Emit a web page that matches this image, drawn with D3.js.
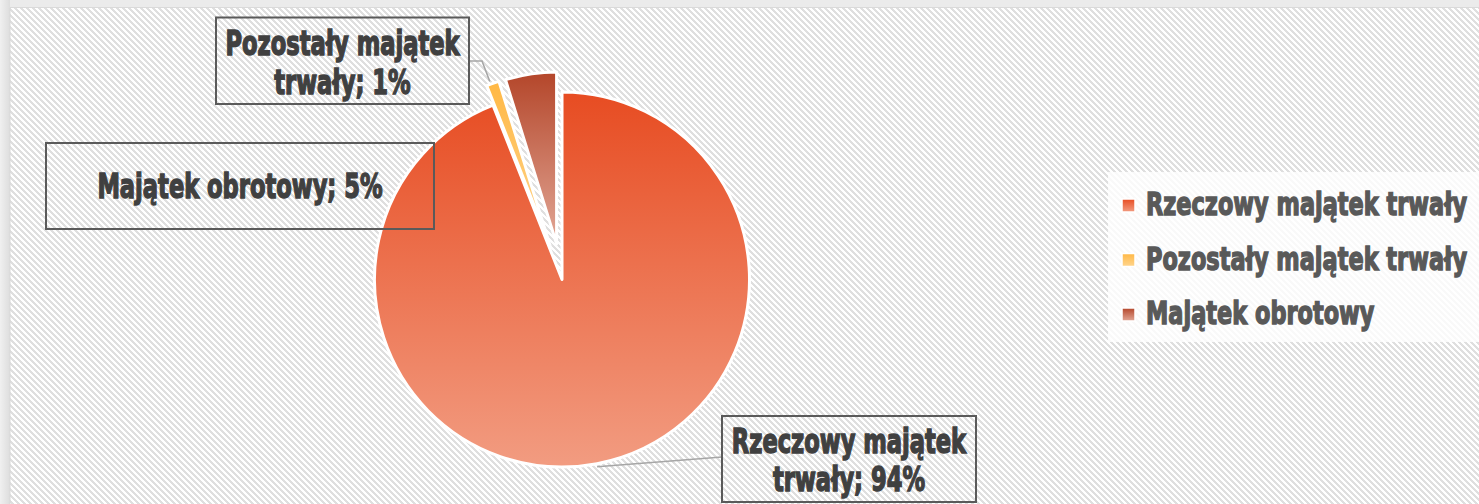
<!DOCTYPE html>
<html>
<head>
<meta charset="utf-8">
<script src="https://cdn.jsdelivr.net/npm/d3@7"></script>
<style>
html,body{margin:0;padding:0;background:#ebebeb;overflow:hidden;}
svg{display:block;}
</style>
</head>
<body>
<svg id="chart" width="1479" height="504"></svg>
<script>
// ---- data ----
const categories = ["Rzeczowy majątek trwały", "Pozostały majątek trwały", "Majątek obrotowy"];
const values = [94.0, 1.2, 4.8];
const exploded = [false, true, true];
const topColors = ["#E74C22", "#FFB845", "#B4462A"];
const bottomColors = ["#F29C81", "#FFD58E", "#E2A796"];

// ---- layout ----
const W = 1479, H = 504;
const cx = 562, cy = 279.5, R = 187.5, Rex = 172, explodeDist = 36;
const FONT = "'Liberation Sans Narrow','DejaVu Sans Condensed','Liberation Sans',sans-serif";

const svg = d3.select("#chart");
const defs = svg.append("defs");

// background pattern (downward diagonal stripes)
const pat = defs.append("pattern").attr("id", "bgpat")
  .attr("patternUnits", "userSpaceOnUse").attr("width", 6).attr("height", 6);
pat.append("rect").attr("width", 6).attr("height", 6).attr("fill", "#ffffff");
for (let y = 0; y < 6; y++) for (let x = 0; x < 6; x++) {
  if (((x - y) % 6 + 6) % 6 < 3) pat.append("rect").attr("x", x).attr("y", y)
    .attr("width", 1).attr("height", 1).attr("fill", "#dfdfdf").attr("shape-rendering", "crispEdges");
}

// gradients
categories.forEach((c, i) => {
  const g = defs.append("linearGradient").attr("id", "grad" + i)
    .attr("x1", 0).attr("y1", 0).attr("x2", 0).attr("y2", 1);
  g.append("stop").attr("offset", "0%").attr("stop-color", topColors[i]);
  g.append("stop").attr("offset", "100%").attr("stop-color", bottomColors[i]);
});

svg.append("rect").attr("width", W).attr("height", H).attr("fill", "#ebebeb");
const lg = defs.append("linearGradient").attr("id", "leftband").attr("x1", 0).attr("x2", 1).attr("y1", 0).attr("y2", 0);
lg.append("stop").attr("offset", "0%").attr("stop-color", "#f0f0f0");
lg.append("stop").attr("offset", "100%").attr("stop-color", "#dddddd");
svg.append("rect").attr("x", 0).attr("y", 0).attr("width", 10).attr("height", H).attr("fill", "url(#leftband)");
svg.append("rect").attr("x", 10).attr("y", 8).attr("width", W - 10).attr("height", H - 8)
  .attr("fill", "url(#bgpat)");
svg.append("line").attr("x1", 10).attr("x2", W).attr("y1", 7.5).attr("y2", 7.5).attr("stroke", "#dadada").attr("stroke-width", 1);
svg.append("line").attr("x1", 10).attr("x2", 10).attr("y1", 8).attr("y2", H).attr("stroke", "#d8d8d8").attr("stroke-width", 1);

// ---- pie ----
const pie = d3.pie().sort(null).value(d => d)(values);
const arcBig = d3.arc().innerRadius(0).outerRadius(R);
const arcEx = d3.arc().innerRadius(0).outerRadius(Rex);

function offsetOf(d, i) {
  if (!exploded[i]) return [0, 0];
  const m = (d.startAngle + d.endAngle) / 2;
  return [Math.sin(m) * explodeDist, -Math.cos(m) * explodeDist];
}

const pieG = svg.append("g").attr("transform", `translate(${cx},${cy})`);
pieG.selectAll("path").data(pie).join("path")
  .attr("transform", (d, i) => { const o = offsetOf(d, i); return `translate(${o[0]},${o[1]})`; })
  .attr("d", (d, i) => exploded[i] ? arcEx(d) : arcBig(d))
  .attr("fill", (d, i) => `url(#grad${i})`)
  .attr("stroke", "#ffffff").attr("stroke-width", 3).attr("stroke-linejoin", "round");

// ---- data labels ----
const total = d3.sum(values);
const pct = values.map(v => Math.round(v / total * 100) + "%");

function pointOnSlice(i) {
  const d = pie[i];
  const m = (d.startAngle + d.endAngle) / 2;
  const o = offsetOf(d, i);
  const r = exploded[i] ? Rex : R;
  return [cx + o[0] + Math.sin(m) * r, cy + o[1] - Math.cos(m) * r];
}

// leader lines
const lineG = svg.append("g").attr("fill", "none").attr("stroke", "#a6a6a6").attr("stroke-width", 1.5);
{
  const p0 = pointOnSlice(0);
  lineG.append("path").attr("d", d3.line()([[p0[0], p0[1] + 3], [722, 457]]));
  const p1 = pointOnSlice(1);
  lineG.append("path").attr("d", d3.line()([[p1[0] - 3, p1[1] - 2], [482, 61], [469, 61]]));
}

// measure helper: horizontal scale so that a reference string reaches a target width
function condense(size, refText, targetWidth) {
  const t = svg.append("text").attr("font-family", FONT).attr("font-weight", "bold")
    .attr("font-size", size).text(refText);
  const w = t.node().getComputedTextLength();
  t.remove();
  return targetWidth / (w + 1);
}

const labelLayout = [
  { i: 1, box: [216, 17.5, 469, 104], breakAt: 2, baselines: [55, 94] },
  { i: 2, box: [46, 143, 434, 229], breakAt: null, baselines: [198] },
  { i: 0, box: [722, 416, 976, 502], breakAt: 2, baselines: [453, 491] }
];

const labSize = 34;
const labScale = condense(labSize, "Pozostały majątek", 235);
const labG = svg.append("g");
labelLayout.forEach(L => {
  const [x0, y0, x1, y1] = L.box;
  labG.append("rect").attr("x", x0).attr("y", y0).attr("width", x1 - x0).attr("height", y1 - y0)
    .attr("fill", "none").attr("stroke", "#5a5a5a").attr("stroke-width", 2);
  const full = categories[L.i] + "; " + pct[L.i];
  let lines;
  if (L.breakAt) {
    const w = full.split(" ");
    lines = [w.slice(0, L.breakAt).join(" "), w.slice(L.breakAt).join(" ")];
  } else lines = [full];
  const mx = (x0 + x1) / 2;
  lines.forEach((t, k) => {
    labG.append("text")
      .attr("transform", `translate(${mx},${L.baselines[k]}) scale(${labScale},1)`)
      .attr("text-anchor", "middle")
      .attr("font-family", FONT).attr("font-weight", "bold").attr("font-size", labSize)
      .attr("fill", "#404040").attr("stroke", "#404040").attr("stroke-width", 1.4)
      .text(t);
  });
});

// ---- legend ----
svg.append("rect").attr("x", 1108).attr("y", 172).attr("width", W - 1108).attr("height", 170)
  .attr("fill", "#ffffff").attr("opacity", 0.8);
const legSize = 32;
const legScale = condense(legSize, categories[0], 322);
const legG = svg.append("g");
const legY = d3.scalePoint().domain(categories).range([215, 324]);
categories.forEach((c, i) => {
  const by = legY(c);
  legG.append("rect").attr("x", 1122).attr("y", by - 16).attr("width", 13).attr("height", 13)
    .attr("fill", `url(#grad${i})`).attr("stroke", "#ffffff").attr("stroke-width", 1.5);
  legG.append("text")
    .attr("transform", `translate(1146,${by}) scale(${legScale},1)`)
    .attr("font-family", FONT).attr("font-weight", "bold").attr("font-size", legSize)
    .attr("fill", "#595959").attr("stroke", "#595959").attr("stroke-width", 1.4)
    .text(c);
});
</script>
</body>
</html>
